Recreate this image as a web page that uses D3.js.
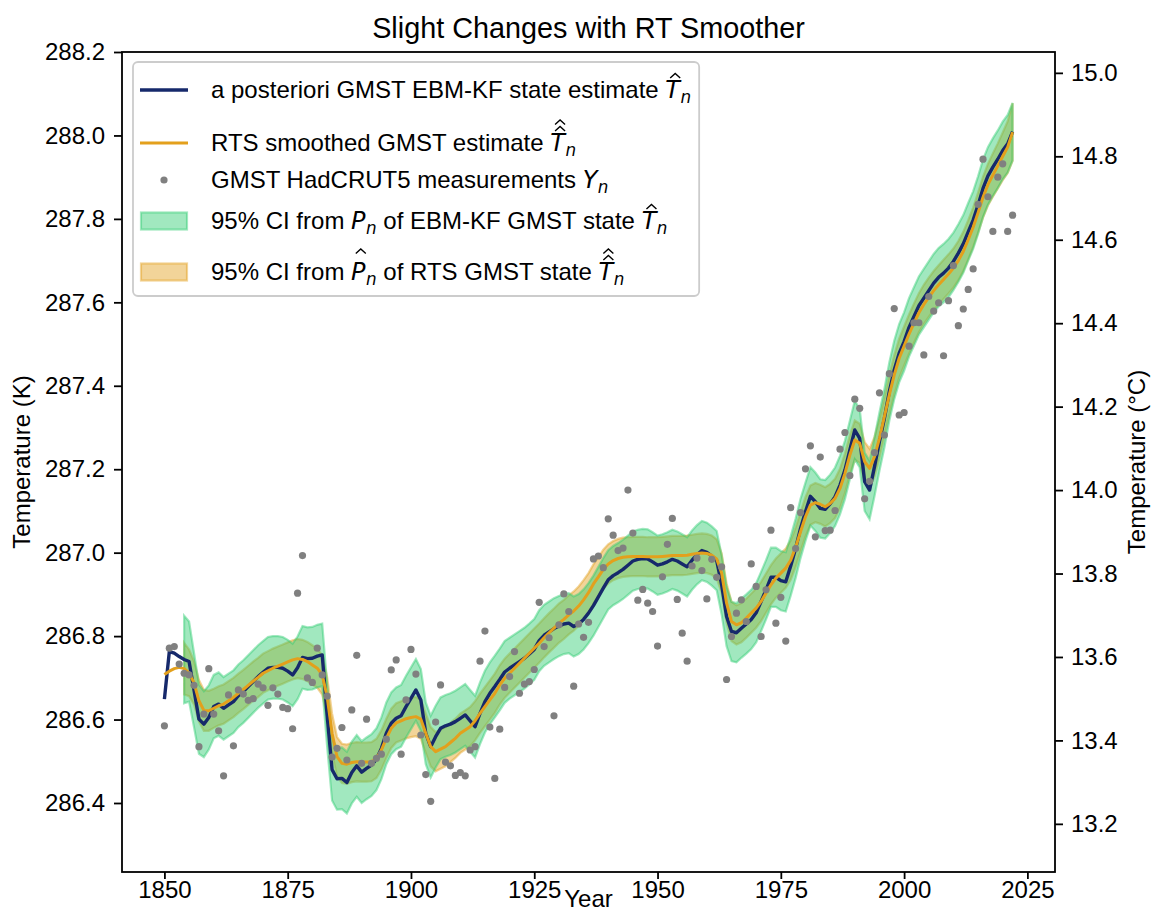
<!DOCTYPE html>
<html><head><meta charset="utf-8">
<script src="https://cdn.jsdelivr.net/npm/d3@7"></script>
<style>
body{margin:0;background:#fff;}
svg{display:block;font-family:"Liberation Sans",Arial,sans-serif;}
</style>
</head><body>
<svg id="chart" width="1152" height="912"></svg>
<script>
// ---------------- DATA ----------------
const years = d3.range(1850, 2023);

const measurements = [
286.585,286.771,286.775,286.733,286.711,286.707,286.682,286.535,286.613,286.722,
286.613,286.573,286.465,286.659,286.537,286.671,286.661,286.646,286.650,286.685,
286.676,286.634,286.676,286.661,286.629,286.626,286.578,286.903,286.993,286.700,
286.689,286.771,286.707,286.656,286.510,286.531,286.581,286.503,286.623,286.754,
286.495,286.601,286.495,286.507,286.517,286.553,286.719,286.743,286.517,286.647,
286.768,286.709,286.563,286.468,286.404,286.594,286.683,286.498,286.489,286.466,
286.473,286.465,286.527,286.535,286.740,286.812,286.582,286.459,286.577,286.677,
286.703,286.763,286.663,286.685,286.691,286.720,286.881,286.775,286.796,286.609,
286.827,286.901,286.859,286.680,286.829,286.797,286.833,286.985,286.992,286.964,
287.081,287.042,287.005,287.011,287.150,287.047,286.886,286.912,286.879,286.859,
286.776,286.942,287.020,287.082,286.888,286.807,286.740,286.968,286.987,286.957,
286.889,286.984,286.941,286.966,286.696,286.799,286.855,286.887,286.835,286.973,
286.919,286.799,286.911,287.054,286.831,286.893,286.788,287.108,287.010,287.096,
287.201,287.256,287.038,287.229,287.053,287.054,287.101,287.248,287.288,287.185,
287.368,287.346,287.129,287.171,287.240,287.383,287.282,287.429,287.585,287.330,
287.336,287.495,287.551,287.551,287.474,287.614,287.579,287.599,287.472,287.604,
287.688,287.544,287.584,287.631,287.680,287.835,287.943,287.853,287.770,287.900,
287.932,287.770,287.809];

const kfState = [
286.649,286.763,286.759,286.751,286.744,286.739,286.671,286.601,286.589,286.605,
286.631,286.637,286.627,286.635,286.643,286.657,286.667,286.679,286.691,286.703,
286.713,286.723,286.725,286.725,286.723,286.716,286.707,286.724,286.749,286.746,
286.747,286.752,286.755,286.610,286.480,286.458,286.459,286.449,286.473,286.489,
286.474,286.483,286.491,286.505,286.531,286.567,286.591,286.603,286.609,286.631,
286.651,286.671,286.647,286.567,286.535,286.559,286.579,286.585,286.589,286.595,
286.603,286.611,286.597,286.583,286.615,286.643,286.663,286.679,286.696,286.714,
286.723,286.731,286.739,286.747,286.757,286.768,286.789,286.802,286.810,286.818,
286.824,286.829,286.831,286.823,286.829,286.840,286.855,286.873,286.894,286.915,
286.935,286.945,286.952,286.960,286.970,286.980,286.984,286.986,286.985,286.978,
286.970,286.973,286.978,286.984,286.980,286.973,286.966,286.982,286.995,287.005,
287.001,286.992,286.981,286.923,286.847,286.811,286.808,286.819,286.829,286.840,
286.856,286.883,286.911,286.941,286.941,286.933,286.930,286.968,287.010,287.058,
287.098,287.135,287.122,287.106,287.104,287.117,287.134,287.162,287.198,287.246,
287.294,287.274,287.170,287.150,287.206,287.266,287.322,287.386,287.438,287.478,
287.506,287.540,287.566,287.592,287.610,287.628,287.646,287.660,287.670,287.682,
287.698,287.718,287.740,287.769,287.797,287.833,287.873,287.903,287.924,287.943,
287.964,287.980,288.009];

const rtsState = [
286.708,286.716,286.722,286.725,286.722,286.712,286.688,286.645,286.622,286.621,
286.627,286.633,286.637,286.645,286.653,286.663,286.672,286.682,286.692,286.701,
286.711,286.717,286.723,286.728,286.733,286.738,286.743,286.746,286.744,286.739,
286.731,286.723,286.707,286.655,286.567,286.511,286.495,286.493,286.497,286.499,
286.498,286.498,286.499,286.507,286.527,286.555,286.579,286.592,286.597,286.602,
286.605,286.607,286.601,286.567,286.535,286.523,286.529,286.535,286.545,286.555,
286.567,286.575,286.583,286.597,286.615,286.631,286.647,286.663,286.683,286.699,
286.711,286.723,286.735,286.747,286.759,286.771,286.783,286.796,286.808,286.819,
286.831,286.840,286.851,286.860,286.872,286.887,286.904,286.925,286.942,286.960,
286.973,286.981,286.986,286.989,286.990,286.991,286.991,286.991,286.990,286.990,
286.990,286.991,286.992,286.993,286.993,286.993,286.994,286.996,286.998,286.999,
286.998,286.994,286.985,286.951,286.879,286.835,286.827,286.832,286.843,286.855,
286.867,286.883,286.903,286.923,286.939,286.951,286.963,286.982,287.013,287.050,
287.086,287.114,287.120,287.116,287.110,287.118,287.130,287.154,287.190,287.234,
287.270,287.262,287.218,287.202,287.230,287.274,287.326,287.378,287.426,287.466,
287.495,287.524,287.550,287.575,287.595,287.612,287.628,287.642,287.655,287.668,
287.682,287.700,287.722,287.750,287.780,287.815,287.852,287.882,287.905,287.927,
287.950,287.972,288.008];

// 95% CI half-widths (K); null = no band drawn for that year
const kfHalf = [
null,null,null,null,0.105,0.096,0.089,0.083,0.079,0.077,
0.076,0.076,0.075,0.075,0.075,0.075,0.075,0.075,0.075,0.075,
0.075,0.075,0.075,0.075,0.075,0.075,0.075,0.075,0.075,0.075,
0.075,0.075,0.075,0.075,0.074,0.074,0.074,0.074,0.074,0.074,
0.074,0.074,0.074,0.074,0.074,0.074,0.074,0.074,0.074,0.074,
0.074,0.074,0.074,0.074,0.074,0.074,0.074,0.074,0.074,0.074,
0.074,0.074,0.074,0.074,0.074,0.074,0.074,0.074,0.074,0.074,
0.073,0.073,0.073,0.073,0.073,0.073,0.073,0.073,0.073,0.073,
0.072,0.072,0.072,0.072,0.072,0.072,0.072,0.072,0.072,0.072,
0.071,0.071,0.071,0.071,0.071,0.071,0.071,0.071,0.071,0.071,
0.071,0.071,0.071,0.071,0.071,0.071,0.071,0.071,0.071,0.071,
0.071,0.071,0.071,0.071,0.071,0.071,0.071,0.071,0.071,0.071,
0.071,0.071,0.071,0.071,0.071,0.071,0.071,0.071,0.071,0.071,
0.070,0.070,0.070,0.070,0.070,0.070,0.070,0.070,0.070,0.070,
0.070,0.070,0.070,0.070,0.070,0.070,0.070,0.070,0.070,0.070,
0.070,0.070,0.070,0.070,0.070,0.070,0.070,0.070,0.070,0.070,
0.069,0.069,0.069,0.069,0.069,0.069,0.069,0.069,0.069,0.069,
0.069,0.069,0.069];

const rtsHalf = [
null,null,null,null,0.062,0.056,0.052,0.050,0.049,0.048,
0.047,0.047,0.047,0.047,0.047,0.047,0.047,0.047,0.047,0.047,
0.047,0.047,0.047,0.047,0.047,0.047,0.047,0.047,0.047,0.047,
0.047,0.047,0.047,0.047,0.047,0.047,0.047,0.047,0.047,0.047,
0.047,0.047,0.047,0.047,0.047,0.047,0.047,0.047,0.047,0.047,
0.047,0.047,0.047,0.047,0.047,0.047,0.047,0.047,0.047,0.047,
0.047,0.047,0.047,0.047,0.047,0.047,0.047,0.047,0.047,0.047,
0.047,0.047,0.047,0.047,0.047,0.047,0.047,0.047,0.047,0.047,
0.047,0.047,0.047,0.047,0.047,0.047,0.047,0.047,0.047,0.047,
0.047,0.047,0.047,0.047,0.047,0.047,0.047,0.047,0.047,0.047,
0.047,0.047,0.047,0.047,0.047,0.047,0.047,0.047,0.047,0.047,
0.047,0.047,0.047,0.047,0.047,0.047,0.047,0.047,0.047,0.047,
0.047,0.047,0.047,0.047,0.047,0.047,0.047,0.047,0.047,0.047,
0.047,0.047,0.047,0.047,0.047,0.047,0.047,0.047,0.047,0.047,
0.047,0.047,0.047,0.047,0.047,0.047,0.047,0.047,0.047,0.047,
0.047,0.047,0.047,0.047,0.047,0.047,0.047,0.047,0.047,0.047,
0.047,0.047,0.047,0.047,0.047,0.048,0.049,0.050,0.052,0.054,
0.057,0.062,0.069];

const xTicks = [1850, 1875, 1900, 1925, 1950, 1975, 2000, 2025];
const yTicksK = [286.4, 286.6, 286.8, 287.0, 287.2, 287.4, 287.6, 287.8, 288.0, 288.2];
const yTicksC = [13.2, 13.4, 13.6, 13.8, 14.0, 14.2, 14.4, 14.6, 14.8, 15.0];
const kelvinOffset = 273.15;

// ---------------- STYLE ----------------
const C_BLUE = "#16296b";
const C_ORANGE = "#e3a01c";
const C_GREEN = "#2ecc71";
const C_GREY = "#808080";
const FS = 24;

// ---------------- LAYOUT ----------------
const M = {left:122, right:1055, top:52, bottom:872};
const svg = d3.select("#chart");
const yMin = 286.2346, yMax = 288.2;
const x = d3.scaleLinear().domain([1841.4, 2030.6]).range([M.left, M.right]);
const y = d3.scaleLinear().domain([yMin, yMax]).range([M.bottom, M.top]);
const y2 = d3.scaleLinear().domain([yMin - kelvinOffset, yMax - kelvinOffset]).range([M.bottom, M.top]);

svg.append("defs").append("clipPath").attr("id","plotclip")
  .append("rect").attr("x",M.left).attr("y",M.top)
  .attr("width",M.right-M.left).attr("height",M.bottom-M.top);

const plot = svg.append("g").attr("clip-path","url(#plotclip)");

const idx = years.map((d,i)=>i);
const bandIdx = idx.filter(i => kfHalf[i] != null);

const areaRTS = d3.area()
  .x(i => x(years[i]))
  .y0(i => y(rtsState[i] - rtsHalf[i]))
  .y1(i => y(rtsState[i] + rtsHalf[i]));
const areaKF = d3.area()
  .x(i => x(years[i]))
  .y0(i => y(kfState[i] - kfHalf[i]))
  .y1(i => y(kfState[i] + kfHalf[i]));

plot.append("path").datum(bandIdx).attr("d", areaRTS)
  .attr("fill", C_ORANGE).attr("fill-opacity",0.45)
  .attr("stroke", C_ORANGE).attr("stroke-opacity",0.45).attr("stroke-width",2.2);
plot.append("path").datum(bandIdx).attr("d", areaKF)
  .attr("fill", C_GREEN).attr("fill-opacity",0.45)
  .attr("stroke", C_GREEN).attr("stroke-opacity",0.45).attr("stroke-width",2.2);

const lineKF = d3.line().x(i => x(years[i])).y(i => y(kfState[i]));
const lineRTS = d3.line().x(i => x(years[i])).y(i => y(rtsState[i]));

plot.append("path").datum(idx).attr("d", lineKF)
  .attr("fill","none").attr("stroke",C_BLUE).attr("stroke-width",3.4)
  .attr("stroke-linejoin","round");
plot.append("path").datum(idx).attr("d", lineRTS)
  .attr("fill","none").attr("stroke",C_ORANGE).attr("stroke-width",3.0)
  .attr("stroke-linejoin","round");

plot.selectAll("circle.meas").data(idx).enter().append("circle")
  .attr("class","meas")
  .attr("cx", i => x(years[i])).attr("cy", i => y(measurements[i]))
  .attr("r", 3.6).attr("fill", C_GREY);

// ---------------- AXES ----------------
function styleAxis(g){
  g.select(".domain").remove();
  g.selectAll(".tick line").attr("stroke","#000").attr("stroke-width",1.8);
  g.selectAll(".tick text").attr("fill","#000").attr("font-size",FS)
    .attr("font-family",'"Liberation Sans",Arial,sans-serif');
}
svg.append("g").attr("transform",`translate(0,${M.bottom})`)
  .call(d3.axisBottom(x).tickValues(xTicks).tickFormat(d3.format("d")).tickSize(7).tickPadding(2))
  .call(styleAxis);
svg.append("g").attr("transform",`translate(${M.left},0)`)
  .call(d3.axisLeft(y).tickValues(yTicksK).tickFormat(d3.format(".1f")).tickSize(8).tickPadding(9))
  .call(styleAxis);
svg.append("g").attr("transform",`translate(${M.right},0)`)
  .call(d3.axisRight(y2).tickValues(yTicksC).tickFormat(d3.format(".1f")).tickSize(8).tickPadding(8))
  .call(styleAxis);

svg.append("rect").attr("x",M.left).attr("y",M.top)
  .attr("width",M.right-M.left).attr("height",M.bottom-M.top)
  .attr("fill","none").attr("stroke","#000").attr("stroke-width",1.8);

// titles
svg.append("text").attr("x",(M.left+M.right)/2).attr("y",38)
  .attr("text-anchor","middle").attr("font-size",FS*1.2).text("Slight Changes with RT Smoother");
svg.append("text").attr("x",(M.left+M.right)/2).attr("y",907)
  .attr("text-anchor","middle").attr("font-size",FS).text("Year");
svg.append("text").attr("transform",`translate(30,${(M.top+M.bottom)/2}) rotate(-90)`)
  .attr("text-anchor","middle").attr("font-size",FS).text("Temperature (K)");
svg.append("text").attr("transform",`translate(1145,${(M.top+M.bottom)/2}) rotate(-90)`)
  .attr("text-anchor","middle").attr("font-size",FS).text("Temperature (°C)");

// ---------------- LEGEND ----------------
const leg = svg.append("g");
const legBox = leg.append("rect");
const legendEntries = [
  {kind:"line", color:C_BLUE, cy:90, parts:[{t:"a posteriori GMST EBM-KF state estimate "},{m:"T",h:[1]}]},
  {kind:"line", color:C_ORANGE, cy:143, parts:[{t:"RTS smoothed GMST estimate "},{m:"T",h:[1,2]}]},
  {kind:"dot", color:C_GREY, cy:180, parts:[{t:"GMST HadCRUT5 measurements "},{m:"Y",h:[]}]},
  {kind:"patch", color:C_GREEN, cy:221, parts:[{t:"95% CI from "},{m:"P",h:[]},{t:" of EBM-KF GMST state "},{m:"T",h:[1]}]},
  {kind:"patch", color:C_ORANGE, cy:272, parts:[{t:"95% CI from "},{m:"P",h:[2]},{t:" of RTS GMST state "},{m:"T",h:[1,2]}]}
];
const hx0 = 140, hx1 = 188, tx0 = 211;
let maxEnd = 0;
legendEntries.forEach(e => {
  if (e.kind === "line") {
    leg.append("line").attr("x1",hx0).attr("x2",hx1).attr("y1",e.cy).attr("y2",e.cy)
      .attr("stroke",e.color).attr("stroke-width",e.color===C_BLUE?3.4:3.0);
  } else if (e.kind === "dot") {
    leg.append("circle").attr("cx",(hx0+hx1)/2).attr("cy",e.cy).attr("r",3.6).attr("fill",e.color);
  } else {
    leg.append("rect").attr("x",hx0+1).attr("y",e.cy-8.5).attr("width",hx1-hx0-2).attr("height",17)
      .attr("fill",e.color).attr("fill-opacity",0.45)
      .attr("stroke",e.color).attr("stroke-opacity",0.45).attr("stroke-width",2.2);
  }
  const base = e.cy + 8;
  let cx = tx0;
  e.parts.forEach(p => {
    if (p.t !== undefined) {
      const t = leg.append("text").attr("x",cx).attr("y",base).attr("font-size",FS)
        .attr("xml:space","preserve").style("white-space","pre").text(p.t);
      cx += t.node().getComputedTextLength();
    } else {
      const t = leg.append("text").attr("x",cx).attr("y",base).attr("font-size",FS)
        .attr("font-family",'"DejaVu Sans",sans-serif').attr("font-style","italic").text(p.m);
      const w = t.node().getComputedTextLength();
      const hc = cx + w*0.5 + 2.5;
      p.h.forEach(level => {
        const yb = base - 20 - (level-1)*6.5;
        leg.append("path")
          .attr("d",`M${hc-5},${yb} L${hc},${yb-4.5} L${hc+5},${yb}`)
          .attr("fill","none").attr("stroke","#000").attr("stroke-width",1.4);
      });
      const s = leg.append("text").attr("x",cx + w + 0.5).attr("y",base + 5).attr("font-size",FS*0.7)
        .attr("font-family",'"DejaVu Sans",sans-serif').attr("font-style","italic").text("n");
      cx += w + 0.5 + s.node().getComputedTextLength();
    }
  });
  maxEnd = Math.max(maxEnd, cx);
});
legBox.attr("x",133).attr("y",62).attr("width",maxEnd + 8 - 133).attr("height",234)
  .attr("rx",5).attr("fill","#fff").attr("fill-opacity",0.8)
  .attr("stroke","#cccccc").attr("stroke-width",1.8);
</script>
</body></html>
